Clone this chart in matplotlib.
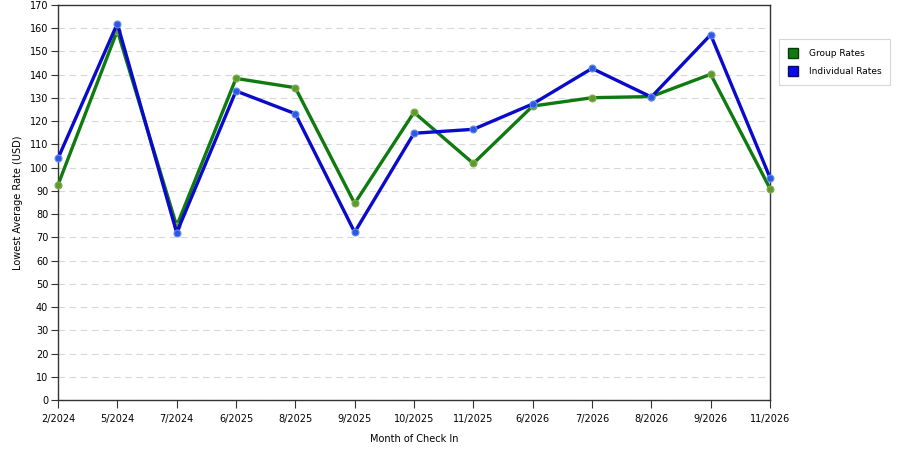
import matplotlib
matplotlib.use("Agg")
import matplotlib.pyplot as plt
from matplotlib.patches import Patch

months = ["2/2024", "5/2024", "7/2024", "6/2025", "8/2025", "9/2025", "10/2025",
          "11/2025", "6/2026", "7/2026", "8/2026", "9/2026", "11/2026"]
group_rates = [92.6, 159.0, 74.9, 138.4, 134.4, 84.6, 123.8, 101.8, 126.5, 130.1, 130.6, 140.2, 91.0]
individual_rates = [104.0, 162.0, 72.0, 133.0, 123.2, 72.2, 114.8, 116.5, 127.4, 142.7, 130.4, 157.2, 95.7]

plt.rcParams['font.family'] = ['DejaVu Sans']

fig = plt.figure(figsize=(9, 4.5), dpi=100)
ax = fig.add_axes([58/900, 50/450, 712/900, 395/450])

x = list(range(len(months)))
ax.plot(x, group_rates, color="#0f7a0f", lw=2.4, marker="o", ms=5,
        mfc="#5f9a2a", mec="#7fae5a", mew=0.8, zorder=3, clip_on=False)
ax.plot(x, individual_rates, color="#0a0acc", lw=2.4, marker="o", ms=5,
        mfc="#2a5ae0", mec="#6a8af0", mew=0.8, zorder=4, clip_on=False)

ax.set_xlim(0, len(months) - 1)
ax.set_ylim(0, 170)
ax.set_xticks(x)
ax.set_xticklabels(months, fontsize=7)
ax.set_yticks(range(0, 171, 10))
ax.tick_params(axis='y', labelsize=7, length=5, width=0.8, color="#333333", pad=2)
ax.tick_params(axis='x', length=6, width=0.8, color="#333333", pad=4)
ax.yaxis.grid(True, color="#d8d8d8", ls=(0, (6, 4)), lw=0.8)
ax.set_axisbelow(True)
for s in ax.spines.values():
    s.set_color("#333333")
    s.set_linewidth(1.0)

ax.set_ylabel("Lowest Average Rate (USD)", fontsize=7, labelpad=5)
ax.set_xlabel("Month of Check In", fontsize=7, labelpad=7)

handles = [Patch(facecolor="#0f7a0f", edgecolor="#0a3a0a", label="Group Rates"),
           Patch(facecolor="#0a0aee", edgecolor="#0a0a66", label="Individual Rates")]
leg = fig.legend(handles=handles, loc="upper left", bbox_to_anchor=(779/900, 1 - 39/450),
                 fontsize=6.5, frameon=True, fancybox=False, edgecolor="#cccccc",
                 handlelength=1.1, handleheight=1.3, borderpad=1.0, labelspacing=0.9,
                 handletextpad=1.2, borderaxespad=0)
leg.get_frame().set_linewidth(0.8)

fig.savefig("out.png", dpi=100)
